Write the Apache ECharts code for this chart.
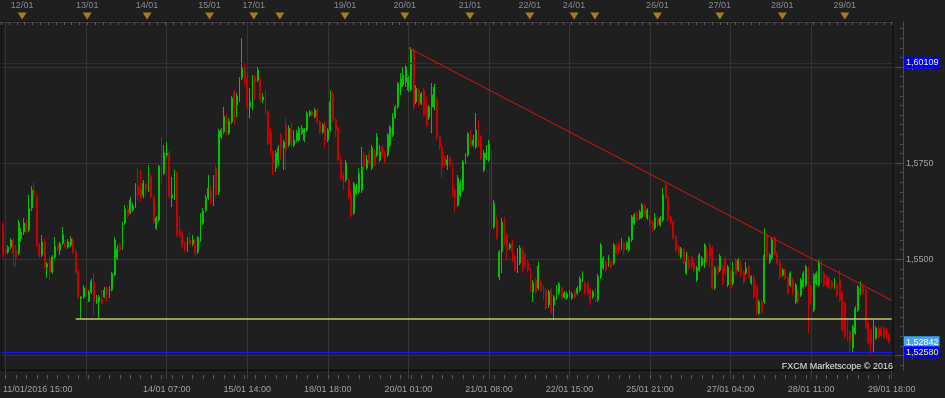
<!DOCTYPE html>
<html><head><meta charset="utf-8">
<script src="https://cdn.jsdelivr.net/npm/echarts@6/dist/echarts.min.js"></script>
<style>html,body{margin:0;padding:0;background:#1f1f1f}#c{width:945px;height:398px}</style>
</head><body><div id="c"></div>
<script>
// ---- DATA (hourly GBP/USD candles) ----
const open = [
1.5589,1.5524,1.5519,1.5532,1.5550,1.5524,1.5516,1.5555,1.5571,1.5592,
1.5576,1.5633,1.5680,1.5662,1.5537,1.5511,1.5545,1.5480,1.5498,1.5467,
1.5506,1.5537,1.5524,1.5542,1.5542,1.5532,1.5537,1.5550,1.5519,1.5467,
1.5399,1.5402,1.5425,1.5391,1.5415,1.5441,1.5389,1.5389,1.5399,1.5402,
1.5425,1.5402,1.5420,1.5459,1.5503,1.5537,1.5529,1.5594,1.5631,1.5620,
1.5628,1.5636,1.5693,1.5680,1.5667,1.5696,1.5680,1.5716,
1.5662,1.5581,1.5602,1.5745,1.5724,1.5771,1.5776,1.5659,1.5667,1.5724,
1.5576,1.5568,1.5542,1.5529,1.5550,1.5540,1.5550,1.5519,1.5550,1.5594,
1.5628,1.5659,1.5680,1.5646,1.5737,1.5675,1.5818,1.5831,1.5875,1.5828,
1.5857,1.5935,1.5901,1.5914,1.5971,1.5997,1.5971,1.5896,1.5896,1.5974,
1.5966,1.5966,1.5914,1.5935,1.5883,1.5831,1.5779,1.5737,1.5758,1.5823,
1.5789,1.5849,1.5797,1.5841,1.5797,1.5810,
1.5810,1.5828,1.5810,1.5836,1.5875,1.5883,1.5870,1.5888,1.5857,1.5831,
1.5854,1.5810,1.5836,1.5930,1.5862,1.5841,1.5758,1.5719,1.5706,1.5706,
1.5667,1.5620,1.5672,1.5675,1.5680,1.5771,1.5737,1.5776,1.5737,1.5776,
1.5771,1.5758,1.5792,1.5776,1.5771,1.5797,1.5823,1.5870,1.5896,1.5948,
1.5953,1.5961,1.5940,1.5940,1.6044,1.5909,1.5940,1.5906,1.5940,1.5896,
1.5870,1.5896,1.5896,1.5914,1.5818,1.5792,1.5766,1.5745,
1.5763,1.5745,1.5680,1.5641,1.5667,1.5680,1.5753,1.5771,1.5810,1.5797,
1.5792,1.5836,1.5818,1.5732,1.5763,1.5758,1.5779,1.5584,1.5602,1.5454,
1.5519,1.5589,1.5563,1.5529,1.5545,1.5508,1.5480,1.5490,1.5524,1.5511,
1.5493,1.5472,1.5415,1.5446,1.5425,1.5441,1.5428,1.5420,1.5381,1.5420,
1.5381,1.5399,1.5412,1.5425,1.5402,1.5399,1.5407,1.5399,1.5415,1.5412,
1.5420,1.5446,1.5438,1.5438,1.5420,1.5402,1.5420,1.5394,1.5454,1.5477,
1.5493,1.5485,1.5493,1.5490,1.5537,
1.5542,1.5529,1.5542,1.5529,1.5524,1.5550,1.5594,1.5620,1.5607,1.5610,
1.5641,1.5607,1.5610,1.5594,1.5581,1.5607,1.5589,1.5602,1.5693,1.5662,
1.5610,1.5597,1.5558,1.5532,1.5506,1.5524,1.5464,1.5498,1.5506,1.5490,
1.5446,1.5472,1.5485,1.5493,1.5524,1.5537,1.5529,1.5425,1.5480,1.5472,
1.5480,1.5503,1.5433,1.5472,1.5438,1.5498,1.5472,1.5480,1.5467,1.5464,
1.5480,1.5438,1.5454,1.5428,1.5360,1.5389,1.5389,1.5563,1.5493,1.5503,
1.5555,1.5516,1.5493,1.5459,1.5472,1.5451,1.5433,1.5446,1.5389,1.5415,
1.5407,1.5428,1.5433,1.5477,1.5428,1.5368,1.5438,1.5433,1.5493,1.5464,
1.5454,1.5451,1.5441,1.5428,1.5433,1.5446,1.5412,1.5386,1.5342,1.5311,
1.5269,1.5308,1.5368,1.5412,1.5428,1.5420,1.5334,1.5316,1.5264,1.5295,
1.5321,1.5321,1.5321,1.5316,1.5303
];
const close = [
1.5511,1.5519,1.5532,1.5550,1.5516,1.5503,1.5594,1.5571,1.5594,1.5571,
1.5633,1.5680,1.5667,1.5537,1.5511,1.5545,1.5480,1.5488,1.5467,1.5506,
1.5534,1.5527,1.5540,1.5563,1.5532,1.5545,1.5553,1.5519,1.5467,1.5402,
1.5402,1.5425,1.5410,1.5415,1.5443,1.5391,1.5402,1.5402,1.5386,1.5420,
1.5407,1.5423,1.5462,1.5550,1.5527,1.5524,1.5592,1.5631,1.5612,1.5654,
1.5638,1.5690,1.5667,1.5659,1.5698,1.5680,1.5719,1.5662,
1.5597,1.5607,1.5742,1.5706,1.5776,1.5776,1.5662,1.5667,1.5724,1.5563,
1.5563,1.5534,1.5524,1.5550,1.5540,1.5550,1.5516,1.5558,1.5615,1.5625,
1.5659,1.5685,1.5649,1.5696,1.5667,1.5833,1.5836,1.5872,1.5826,1.5859,
1.5919,1.5896,1.5924,1.5969,1.5997,1.5971,1.5896,1.5909,1.5971,1.5961,
1.5992,1.5914,1.5922,1.5883,1.5802,1.5784,1.5750,1.5776,1.5789,1.5789,
1.5805,1.5784,1.5841,1.5802,1.5810,1.5828,
1.5841,1.5841,1.5836,1.5880,1.5883,1.5875,1.5888,1.5857,1.5831,1.5849,
1.5810,1.5836,1.5909,1.5862,1.5836,1.5758,1.5714,1.5706,1.5750,1.5662,
1.5615,1.5696,1.5690,1.5722,1.5740,1.5740,1.5758,1.5750,1.5789,1.5745,
1.5818,1.5779,1.5771,1.5753,1.5823,1.5844,1.5870,1.5896,1.5956,1.5969,
1.5979,1.6000,1.5971,1.6044,1.5896,1.5945,1.5901,1.5930,1.5875,1.5849,
1.5896,1.5927,1.5948,1.5818,1.5792,1.5740,1.5745,1.5758,
1.5745,1.5667,1.5662,1.5711,1.5698,1.5753,1.5771,1.5826,1.5797,1.5810,
1.5836,1.5797,1.5763,1.5776,1.5776,1.5800,1.5584,1.5646,1.5555,1.5519,
1.5597,1.5542,1.5524,1.5537,1.5519,1.5472,1.5524,1.5529,1.5472,1.5485,
1.5472,1.5420,1.5438,1.5415,1.5482,1.5420,1.5399,1.5373,1.5415,1.5363,
1.5402,1.5428,1.5436,1.5399,1.5412,1.5410,1.5415,1.5410,1.5402,1.5425,
1.5449,1.5464,1.5412,1.5412,1.5389,1.5415,1.5394,1.5456,1.5537,1.5503,
1.5472,1.5506,1.5480,1.5537,1.5516,
1.5519,1.5550,1.5524,1.5542,1.5555,1.5610,1.5615,1.5602,1.5623,1.5641,
1.5615,1.5628,1.5594,1.5576,1.5607,1.5589,1.5607,1.5667,1.5662,1.5602,
1.5594,1.5555,1.5524,1.5516,1.5527,1.5490,1.5493,1.5477,1.5482,1.5472,
1.5477,1.5511,1.5503,1.5537,1.5493,1.5506,1.5425,1.5477,1.5464,1.5508,
1.5438,1.5464,1.5480,1.5425,1.5467,1.5464,1.5498,1.5459,1.5441,1.5477,
1.5454,1.5454,1.5402,1.5360,1.5389,1.5363,1.5511,1.5506,1.5511,1.5550,
1.5516,1.5490,1.5454,1.5472,1.5451,1.5412,1.5464,1.5412,1.5433,1.5389,
1.5446,1.5464,1.5480,1.5415,1.5389,1.5459,1.5464,1.5493,1.5446,1.5433,
1.5433,1.5428,1.5428,1.5446,1.5407,1.5394,1.5316,1.5298,1.5290,1.5285,
1.5324,1.5373,1.5428,1.5438,1.5412,1.5324,1.5282,1.5282,1.5298,1.5321,
1.5298,1.5303,1.5298,1.5298,1.5285
];
const low = [
1.5503,1.5514,1.5514,1.5527,1.5480,1.5480,1.5511,1.5545,1.5563,1.5566,
1.5571,1.5625,1.5654,1.5532,1.5503,1.5506,1.5475,1.5451,1.5446,1.5462,
1.5501,1.5521,1.5511,1.5537,1.5527,1.5527,1.5532,1.5514,1.5462,1.5397,
1.5345,1.5397,1.5404,1.5389,1.5410,1.5355,1.5384,1.5345,1.5381,1.5399,
1.5389,1.5399,1.5417,1.5456,1.5498,1.5519,1.5524,1.5589,1.5607,1.5618,
1.5623,1.5633,1.5654,1.5649,1.5659,1.5662,1.5675,1.5657,
1.5592,1.5576,1.5597,1.5698,1.5719,1.5766,1.5657,1.5636,1.5654,1.5558,
1.5555,1.5529,1.5519,1.5519,1.5537,1.5534,1.5506,1.5514,1.5545,1.5589,
1.5623,1.5654,1.5641,1.5638,1.5662,1.5667,1.5813,1.5826,1.5823,1.5823,
1.5852,1.5849,1.5870,1.5909,1.5966,1.5953,1.5888,1.5867,1.5888,1.5914,
1.5961,1.5909,1.5906,1.5878,1.5797,1.5771,1.5719,1.5727,1.5742,1.5758,
1.5732,1.5732,1.5792,1.5794,1.5792,1.5805,
1.5805,1.5823,1.5805,1.5831,1.5870,1.5870,1.5867,1.5852,1.5826,1.5826,
1.5789,1.5805,1.5831,1.5857,1.5818,1.5753,1.5706,1.5680,1.5701,1.5654,
1.5607,1.5615,1.5667,1.5670,1.5672,1.5732,1.5732,1.5745,1.5732,1.5740,
1.5766,1.5753,1.5766,1.5748,1.5766,1.5792,1.5818,1.5865,1.5891,1.5927,
1.5948,1.5948,1.5935,1.5935,1.5888,1.5904,1.5896,1.5901,1.5870,1.5844,
1.5862,1.5828,1.5888,1.5810,1.5784,1.5711,1.5740,1.5732,
1.5740,1.5662,1.5623,1.5636,1.5662,1.5675,1.5748,1.5766,1.5789,1.5792,
1.5787,1.5792,1.5758,1.5727,1.5758,1.5753,1.5579,1.5579,1.5550,1.5446,
1.5464,1.5537,1.5498,1.5524,1.5493,1.5467,1.5464,1.5485,1.5464,1.5477,
1.5467,1.5415,1.5389,1.5410,1.5420,1.5415,1.5394,1.5368,1.5373,1.5358,
1.5342,1.5394,1.5407,1.5394,1.5397,1.5394,1.5402,1.5394,1.5397,1.5407,
1.5415,1.5441,1.5407,1.5404,1.5381,1.5397,1.5389,1.5389,1.5449,1.5472,
1.5467,1.5480,1.5475,1.5485,1.5511,
1.5514,1.5524,1.5511,1.5524,1.5519,1.5545,1.5589,1.5597,1.5602,1.5605,
1.5610,1.5602,1.5586,1.5571,1.5576,1.5584,1.5584,1.5597,1.5657,1.5597,
1.5589,1.5550,1.5519,1.5508,1.5501,1.5485,1.5459,1.5472,1.5477,1.5467,
1.5441,1.5467,1.5480,1.5477,1.5485,1.5480,1.5420,1.5420,1.5459,1.5467,
1.5433,1.5459,1.5428,1.5420,1.5433,1.5459,1.5467,1.5454,1.5436,1.5459,
1.5449,1.5433,1.5397,1.5355,1.5355,1.5358,1.5384,1.5498,1.5488,1.5498,
1.5511,1.5485,1.5449,1.5454,1.5446,1.5407,1.5428,1.5407,1.5384,1.5384,
1.5402,1.5423,1.5428,1.5308,1.5384,1.5363,1.5433,1.5428,1.5441,1.5428,
1.5428,1.5423,1.5423,1.5423,1.5402,1.5389,1.5311,1.5293,1.5285,1.5259,
1.5259,1.5303,1.5363,1.5407,1.5407,1.5319,1.5277,1.5251,1.5259,1.5290,
1.5293,1.5298,1.5293,1.5293,1.5280
];
const high = [
1.5597,1.5529,1.5537,1.5555,1.5555,1.5537,1.5602,1.5581,1.5607,1.5602,
1.5667,1.5690,1.5701,1.5667,1.5542,1.5563,1.5555,1.5493,1.5508,1.5511,
1.5558,1.5542,1.5545,1.5584,1.5550,1.5553,1.5560,1.5555,1.5527,1.5472,
1.5404,1.5433,1.5428,1.5420,1.5449,1.5464,1.5407,1.5407,1.5420,1.5428,
1.5430,1.5430,1.5467,1.5558,1.5537,1.5542,1.5597,1.5641,1.5638,1.5662,
1.5646,1.5698,1.5737,1.5732,1.5706,1.5698,1.5745,1.5722,
1.5667,1.5612,1.5745,1.5818,1.5797,1.5805,1.5784,1.5714,1.5732,1.5727,
1.5610,1.5573,1.5547,1.5558,1.5571,1.5563,1.5555,1.5560,1.5620,1.5633,
1.5667,1.5719,1.5693,1.5719,1.5745,1.5839,1.5841,1.5896,1.5880,1.5867,
1.5924,1.5940,1.5932,1.5974,1.6075,1.6008,1.5987,1.5945,1.5979,1.5979,
1.6000,1.5971,1.5932,1.5940,1.5888,1.5841,1.5784,1.5784,1.5797,1.5828,
1.5810,1.5867,1.5849,1.5857,1.5836,1.5836,
1.5846,1.5849,1.5841,1.5885,1.5888,1.5888,1.5893,1.5893,1.5862,1.5854,
1.5859,1.5841,1.5940,1.5935,1.5867,1.5846,1.5768,1.5727,1.5758,1.5711,
1.5680,1.5701,1.5696,1.5737,1.5792,1.5779,1.5771,1.5784,1.5797,1.5784,
1.5828,1.5797,1.5797,1.5784,1.5828,1.5849,1.5880,1.5901,1.5961,1.5984,
1.6000,1.6005,1.5976,1.6052,1.6049,1.5953,1.5945,1.5935,1.5945,1.5922,
1.5901,1.5958,1.5956,1.5919,1.5823,1.5797,1.5771,1.5771,
1.5768,1.5750,1.5685,1.5719,1.5706,1.5758,1.5776,1.5831,1.5836,1.5823,
1.5880,1.5862,1.5823,1.5784,1.5797,1.5810,1.5784,1.5654,1.5615,1.5524,
1.5607,1.5610,1.5568,1.5542,1.5550,1.5514,1.5529,1.5537,1.5532,1.5516,
1.5498,1.5477,1.5446,1.5451,1.5493,1.5446,1.5433,1.5425,1.5420,1.5425,
1.5407,1.5433,1.5441,1.5430,1.5417,1.5415,1.5420,1.5415,1.5420,1.5430,
1.5456,1.5469,1.5443,1.5443,1.5425,1.5420,1.5425,1.5462,1.5542,1.5508,
1.5498,1.5511,1.5498,1.5542,1.5542,
1.5547,1.5555,1.5547,1.5547,1.5560,1.5615,1.5620,1.5625,1.5628,1.5646,
1.5646,1.5633,1.5615,1.5599,1.5620,1.5612,1.5612,1.5685,1.5701,1.5667,
1.5615,1.5602,1.5563,1.5537,1.5532,1.5529,1.5519,1.5508,1.5511,1.5503,
1.5482,1.5516,1.5508,1.5542,1.5532,1.5542,1.5534,1.5482,1.5485,1.5514,
1.5485,1.5508,1.5485,1.5477,1.5493,1.5503,1.5503,1.5498,1.5472,1.5493,
1.5485,1.5459,1.5459,1.5433,1.5394,1.5394,1.5581,1.5568,1.5516,1.5555,
1.5560,1.5521,1.5498,1.5477,1.5477,1.5456,1.5469,1.5451,1.5438,1.5420,
1.5451,1.5469,1.5485,1.5482,1.5433,1.5464,1.5469,1.5498,1.5498,1.5469,
1.5459,1.5456,1.5446,1.5451,1.5438,1.5472,1.5417,1.5391,1.5347,1.5316,
1.5329,1.5378,1.5433,1.5443,1.5438,1.5425,1.5339,1.5321,1.5342,1.5326,
1.5326,1.5326,1.5326,1.5321,1.5308
];
const slotCount = 343;                 // hourly slots on the time axis
const timeLabelSlots = [0, 63, 94, 125, 156, 187, 218, 249, 280, 311, 342];
const timeLabels = ['11/01/2016 15:00','14/01 07:00','15/01 14:00','18/01 18:00','20/01 01:00',
  '21/01 08:00','22/01 15:00','25/01 21:00','27/01 04:00','28/01 11:00','29/01 18:00'];
const gridSlots = [1, 32, 63, 94, 125, 156, 187, 218, 249, 280, 311];
const priceTicks = [1.525, 1.55, 1.575, 1.6];
const eventSlots = [8, 33, 56, 80, 97, 107, 132, 155, 180, 203, 220, 228, 252, 276, 300, 324];
const eventLabels = ['12/01','13/01','14/01','15/01','17/01','','19/01','20/01','21/01','22/01','24/01','','26/01','27/01','28/01','29/01'];
const levelHigh = 1.60109, levelLow = 1.52580, lastPrice = 1.52842;
const supportLevel = 1.5344, supportStart = 28;
const trendStart = [156, 1.6050], trendEnd = [342, 1.5393];

// ---- chart ----
const categories = Array.from({length: slotCount}, (_, i) => String(i));
const candles = open.map((o, i) => [o, close[i], low[i], high[i]]);
const labelMap = {};
timeLabelSlots.forEach((s, i) => { labelMap[s] = timeLabels[i]; });
const minorTicks = [];
for (let k = 0; k <= 36; k++) minorTicks.push(+(1.5225 + k * 0.0025).toFixed(4));
const fmt4 = v => v.toFixed(4).replace('.', ',');
const fmt5 = v => v.toFixed(5).replace('.', ',');
const axisGrey = '#a2a2a2';
const gridColor = '#343434';
const priceLabel = (bg, fg, txt) => ({show: true, position: 'end', distance: 11, formatter: txt,
  backgroundColor: bg, color: fg, fontSize: 9, padding: [2, 1, 1, 2], opacity: 1});

const chart = echarts.init(document.getElementById('c'), null, {renderer: 'canvas'});
chart.setOption({
  animation: false,
  backgroundColor: '#1f1f1f',
  textStyle: {fontFamily: 'Liberation Sans'},
  grid: [
    {left: 0, right: 52, top: 22, bottom: 28, show: true, borderColor: '#0b0b0b', borderWidth: 1},
    {left: 0, right: 52, top: 12, height: 10, show: false}
  ],
  xAxis: [
    {type: 'category', gridIndex: 0, data: categories, position: 'bottom', boundaryGap: true,
     axisLine: {show: true, lineStyle: {color: '#0b0b0b'}},
     axisTick: {show: true, alignWithLabel: true, length: 9, lineStyle: {color: '#3c3c3c'},
       interval: (i) => (i - 1) % 31 === 0},
     axisLabel: {show: true, color: axisGrey, fontSize: 9, margin: 15,
       interval: (i) => labelMap[i] !== undefined,
       formatter: (v, i) => labelMap[i] || '', alignMinLabel: 'left'},
     splitLine: {show: false}},
    {type: 'category', gridIndex: 0, data: categories, position: 'bottom', offset: 5, boundaryGap: true,
     axisLine: {show: false},
     axisTick: {show: true, alignWithLabel: true, length: 4, lineStyle: {color: '#585858'},
       interval: (i) => i % 4 === 1},
     axisLabel: {show: false}, splitLine: {show: false}},
    {type: 'category', gridIndex: 1, data: categories, position: 'top', boundaryGap: true,
     axisLine: {show: true, lineStyle: {color: '#3e3e3e'}},
     axisTick: {show: true, inside: true, alignWithLabel: true, length: 3, lineStyle: {color: '#5c5c5c'}, interval: 2},
     axisLabel: {show: false}, splitLine: {show: false}}
  ],
  yAxis: [
    {type: 'value', gridIndex: 0, min: 1.5212, max: 1.6117, position: 'right', offset: 10,
     axisLine: {show: true, lineStyle: {color: '#4a4a4a'}},
     axisTick: {show: true, inside: true, length: 8, lineStyle: {color: '#4a4a4a'}, customValues: priceTicks},
     axisLabel: {show: true, color: axisGrey, fontSize: 9, margin: 3, customValues: priceTicks, formatter: fmt4},
     splitLine: {show: false}},
    {type: 'value', gridIndex: 0, min: 1.5212, max: 1.6117, position: 'right', offset: 10,
     axisLine: {show: false},
     axisTick: {show: true, inside: true, length: 3, lineStyle: {color: '#4a4a4a'}, customValues: minorTicks},
     axisLabel: {show: false}, splitLine: {show: false}},
    {type: 'value', gridIndex: 1, min: 0, max: 10, show: false}
  ],
  graphic: [
    {type: 'text', right: 52, top: 362, z: 100,
     style: {text: 'FXCM Marketscope © 2016', fill: '#e6e6e6', font: '9px "Liberation Sans"'}}
  ],
  series: [
    {type: 'candlestick', xAxisIndex: 0, yAxisIndex: 0, data: candles, barWidth: 1.4, z: 2,
     itemStyle: {color: '#00c400', color0: '#cc0000', borderColor: '#00c400', borderColor0: '#cc0000', borderWidth: 1},
     markLine: {silent: true, symbol: 'none', z: 1, precision: 6, label: {show: false},
       lineStyle: {color: gridColor, width: 1, type: 'solid'},
       data: gridSlots.map(s => ({xAxis: s})).concat(priceTicks.map(p => ({yAxis: p})))}},
    {type: 'line', xAxisIndex: 0, yAxisIndex: 0, data: [], z: 5,
     markLine: {silent: true, symbol: 'none', z: 5, precision: 6,
       data: [
         {yAxis: levelHigh, lineStyle: {color: '#1515f5', width: 1, type: 'solid'},
          label: priceLabel('#0000f0', '#f4f4d0', fmt5(levelHigh))},
         {yAxis: lastPrice, lineStyle: {color: 'rgba(0,0,0,0)', width: 0, type: 'solid'},
          label: priceLabel('#45a3f2', '#ffffff', fmt5(lastPrice))},
         {yAxis: levelLow, lineStyle: {color: '#1515f5', width: 1, type: 'solid'},
          label: priceLabel('#0000f0', '#ffff40', fmt5(levelLow))},
         [{coord: [supportStart, supportLevel], lineStyle: {color: '#c8c864', width: 1.5, type: 'solid'}, label: {show: false}},
          {coord: [slotCount - 1, supportLevel]}],
         [{coord: trendStart, lineStyle: {color: '#e01010', width: 1, type: 'solid'}, label: {show: false}},
          {coord: trendEnd}]
       ]}},
    {type: 'scatter', xAxisIndex: 2, yAxisIndex: 2, symbol: 'triangle', symbolRotate: 180, symbolSize: [9, 7],
     itemStyle: {color: '#c8941c'},
     label: {show: true, position: 'top', distance: 2, color: axisGrey, fontSize: 9,
       formatter: p => eventLabels[p.dataIndex]},
     data: eventSlots.map(s => [s, 6])}
  ]
});
</script></body></html>
